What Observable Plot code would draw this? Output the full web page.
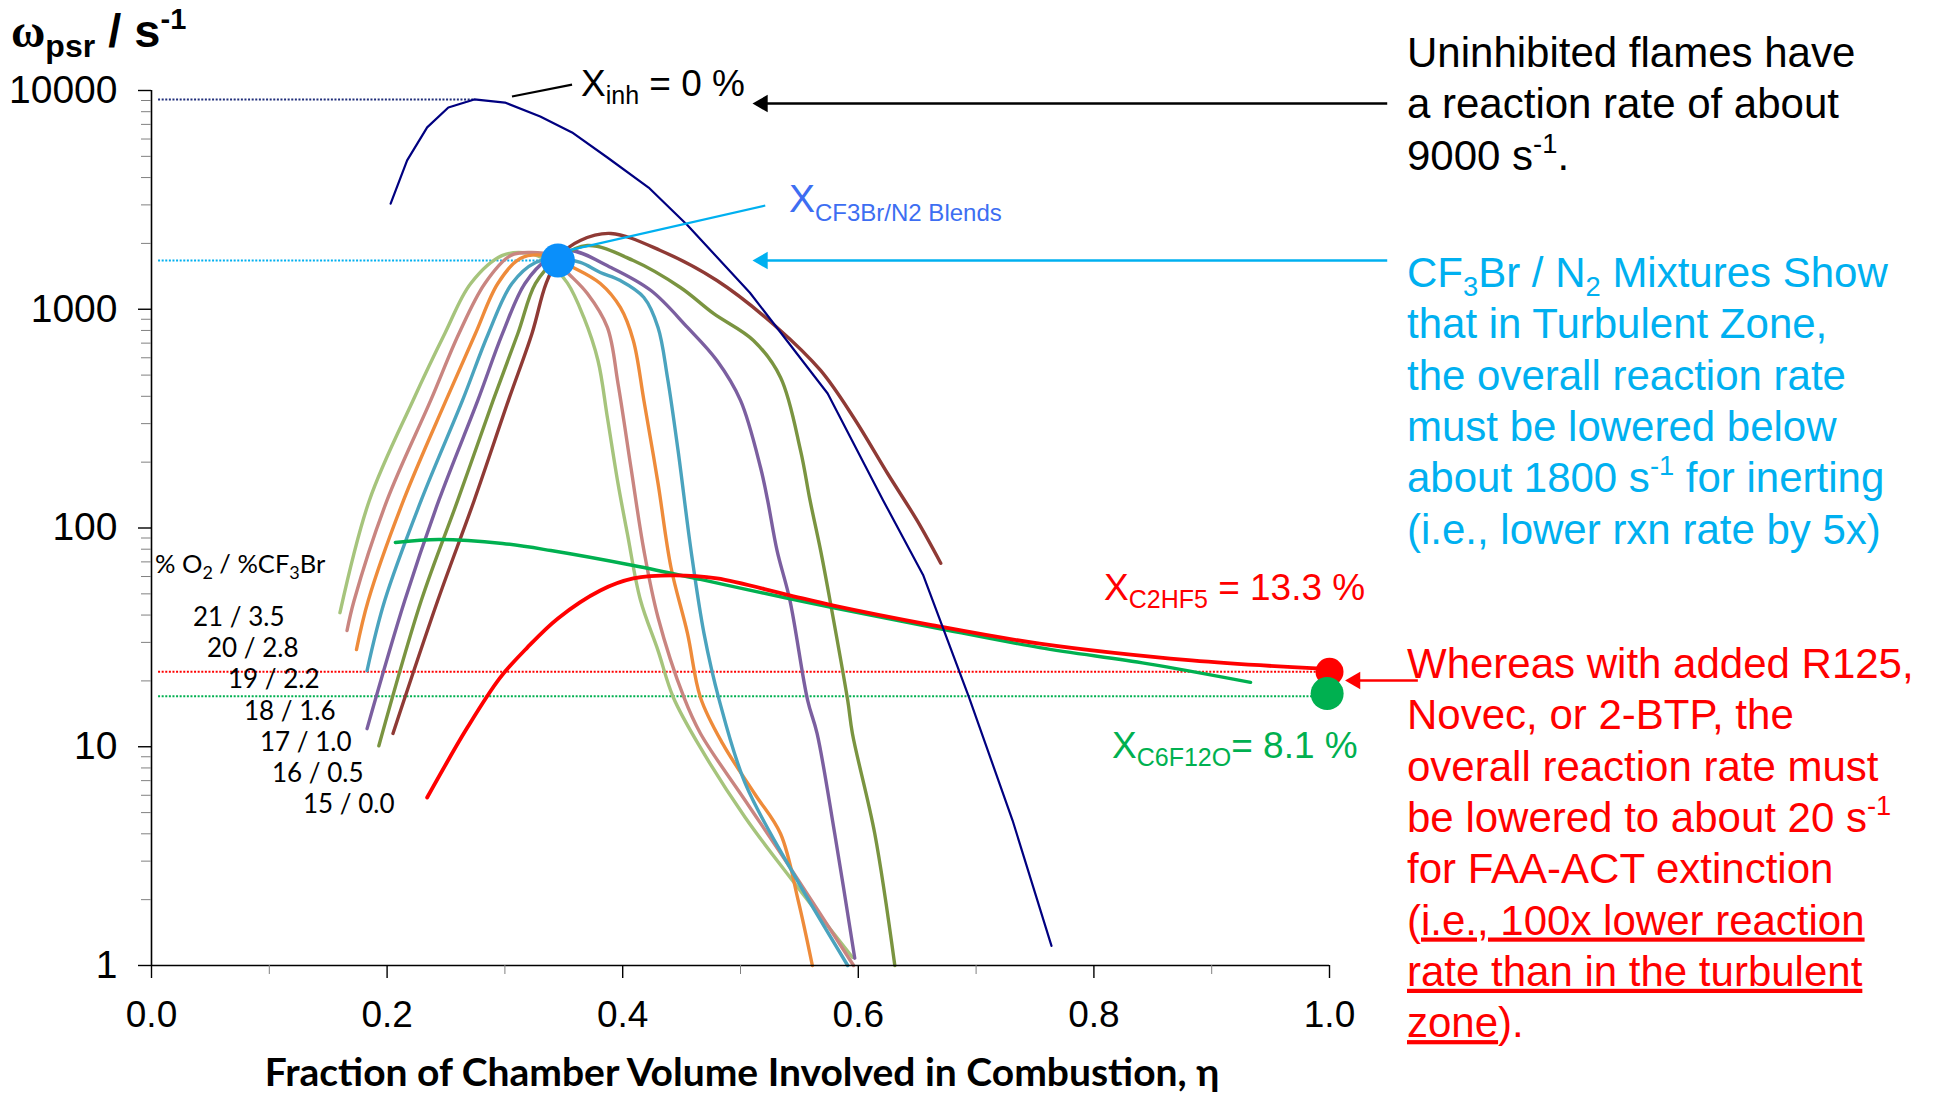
<!DOCTYPE html>
<html><head><meta charset="utf-8">
<script src="https://cdn.jsdelivr.net/npm/d3@7"></script>
<script src="https://cdn.jsdelivr.net/npm/@observablehq/plot@0.6"></script>
<style>
html,body{margin:0;padding:0;background:#fff;}
#chart{position:relative;width:1938px;height:1095px;overflow:hidden;}
</style></head><body><div id="chart"></div>
<script>
// ---------- DATA ----------
const o2Pct    = [21, 20, 19, 18, 17, 16, 15];
const cf3brPct = [3.5, 2.8, 2.2, 1.6, 1.0, 0.5, 0.0];
const cfColors = ["#A6C47C","#C98580","#EE8B3A","#4AA3BE","#7B5FA0","#7A9440","#8F3A35"];

const eta21 = [0.160,0.185,0.222,0.249,0.271,0.298,0.321,0.335,0.353,0.367,0.379,0.387,0.396,0.404,0.415,0.430,0.443,0.466,0.504,0.542,0.595];
const w21   = [41,134,383,775,1312,1762,1800,1670,1320,917,583,320,160,94,47,27.5,16.8,9.9,4.75,2.53,1.09];
const eta20 = [0.166,0.172,0.200,0.237,0.261,0.283,0.305,0.322,0.339,0.353,0.370,0.387,0.396,0.407,0.418,0.430,0.452,0.466,0.504,0.542,0.596];
const w20   = [34,46.6,134,383,775,1312,1762,1817,1762,1473,1180,826,458,189,79,39,16.8,11.5,5.68,2.81,1.0];
const eta19 = [0.174,0.184,0.214,0.250,0.275,0.294,0.313,0.334,0.358,0.381,0.398,0.409,0.418,0.430,0.441,0.455,0.466,0.485,0.512,0.534,0.549,0.561];
const w19   = [27.8,46.6,134,383,775,1312,1706,1762,1552,1312,1019,720,383,160,66,33,16.8,10.3,6.1,4.0,1.98,1.0];
const eta18 = [0.183,0.198,0.229,0.264,0.286,0.306,0.326,0.344,0.364,0.381,0.398,0.418,0.430,0.438,0.447,0.458,0.469,0.482,0.504,0.542,0.591];
const w18   = [22.3,46.6,134,383,775,1312,1636,1706,1636,1473,1353,1132,826,488,226,79,33,16.3,6.8,2.8,1.0];
const eta17 = [0.183,0.215,0.244,0.277,0.298,0.317,0.337,0.355,0.390,0.424,0.455,0.480,0.500,0.517,0.523,0.531,0.542,0.557,0.565,0.580,0.597];
const w17   = [12.1,46.6,134,383,775,1312,1706,1857,1552,1218,826,583,383,189,134,79,46.6,16.3,11.5,4.0,1.08];
const eta16 = [0.193,0.229,0.260,0.290,0.311,0.326,0.343,0.370,0.409,0.449,0.477,0.511,0.534,0.551,0.559,0.568,0.576,0.591,0.595,0.614,0.631];
const w16   = [10.1,46.6,134,383,775,1312,1670,1955,1670,1257,957,720,488,226,134,79,46.6,16.3,11.5,4.0,1.0];
const eta15 = [0.205,0.243,0.274,0.303,0.323,0.335,0.347,0.364,0.390,0.432,0.480,0.531,0.568,0.596,0.625,0.650,0.670];
const w15   = [11.5,46.6,134,383,775,1312,1762,2063,2220,1857,1353,826,525,320,177,108,69];

const etaUninhibited = [0.203,0.217,0.234,0.252,0.274,0.300,0.330,0.357,0.387,0.422,0.455,0.508,0.574,0.621,0.655,0.694,0.731,0.764];
const wUninhibited   = [3040,4790,6780,8360,9100,8810,7610,6430,4940,3600,2420,1190,412,134,61,16.8,4.6,1.23];

const etaC6F12O = [0.207,0.244,0.298,0.339,0.409,0.466,0.537,0.578,0.664,0.754,0.845,0.933];
const wC6F12O   = [85.9,88.6,85,78.9,67.4,58.2,48.1,43.3,35.1,28.4,24,19.7];

const etaC2HF5 = [0.234,0.268,0.296,0.319,0.345,0.381,0.409,0.443,0.480,0.539,0.579,0.660,0.754,0.883,0.989];
const wC2HF5   = [5.86,12.2,20.7,28.4,38.6,51.8,58.8,60.7,58.8,49.6,44.2,36.2,29.6,24.8,22.8];

// reference levels (s^-1) and marked points
const refLevels  = [9100, 1670, 22, 17];
const refEnds    = [0.274, 0.345, 1.0, 0.997];
const refColors  = ["#1F2D7A", "#00B0F0", "#FF0000", "#00B050"];
const keyPointsEta = [0.345, 1.0, 0.998];
const keyPointsW   = [1670, 22, 17.5];
const keyColors    = ["#0A8FFA", "#FF0000", "#00B050"];
const keyRadius    = [17, 14, 16.5];

const xTicks = [0, 0.2, 0.4, 0.6, 0.8, 1.0];
const xMinor = [0.1, 0.3, 0.5, 0.7, 0.9];
const yTicks = [1, 10, 100, 1000, 10000];
const yMinor = [1, 10, 100, 1000].flatMap(d => [2,3,4,5,6,7,8,9].map(k => k * d));

// ---------- BUILD ----------
const cfEta = [eta21, eta20, eta19, eta18, eta17, eta16, eta15];
const cfW   = [w21, w20, w19, w18, w17, w16, w15];
const cfLabels = o2Pct.map((o, i) => `${o} / ${cf3brPct[i].toFixed(1)}`);
const rows = (xs, ys) => xs.map((x, i) => ({x, y: ys[i]}));

const refRows = refLevels.map((y, i) => ({y, x1: 0.006, x2: refEnds[i], c: refColors[i]}));

// annotation connectors / arrows (data units)
const pointers = [
  {x1: 0.306, y1: 9390, x2: 0.357, y2: 10640, c: "#000000", w: 2},
  {x1: 0.354, y1: 1857, x2: 0.521, y2: 2980, c: "#00B0F0", w: 2.2}
];
const arrows = [
  {x1: 1.049, x2: 0.512, y: 8720, c: "#000000"},
  {x1: 1.049, x2: 0.512, y: 1670, c: "#00B0F0"},
  {x1: 1.075, x2: 1.015, y: 20.1, c: "#FF0000"}
];

const SANS = "'Liberation Sans', Arial, Helvetica, sans-serif";
const CAL = "Lato, 'Open Sans', sans-serif";

const chart = Plot.plot({
  width: 1938, height: 1095,
  marginLeft: 151, marginRight: 609, marginTop: 90, marginBottom: 130,
  x: {domain: [0, 1]},
  y: {type: "log", domain: [1, 10000]},
  style: {fontFamily: SANS, background: "white", color: "black", overflow: "visible"},
  marks: [
    Plot.ruleY(refRows, {y: "y", x1: "x1", x2: "x2", stroke: d => d.c, strokeWidth: 2, strokeDasharray: "2,1.6"}),
    ...cfEta.map((xs, i) => Plot.line(rows(xs, cfW[i]), {x: "x", y: "y", stroke: cfColors[i], strokeWidth: 3.4, curve: "catmull-rom"})),
    Plot.line(rows(etaC6F12O, wC6F12O), {x: "x", y: "y", stroke: "#00B050", strokeWidth: 3.4, curve: "catmull-rom"}),
    Plot.line(rows(etaC2HF5, wC2HF5), {x: "x", y: "y", stroke: "#FF0000", strokeWidth: 3.8, curve: "catmull-rom"}),
    Plot.line(rows(etaUninhibited, wUninhibited), {x: "x", y: "y", stroke: "#000080", strokeWidth: 2.2}),
    Plot.link(pointers, {x1: "x1", y1: "y1", x2: "x2", y2: "y2", stroke: d => d.c, strokeWidth: 2.2}),
    Plot.link(arrows, {x1: "x1", x2: d => d.x2 + 0.006, y1: "y", y2: "y", stroke: d => d.c, strokeWidth: 2.6}),
    Plot.dot(arrows, {x: "x2", y: "y", symbol: "triangle", r: 6.5, fill: d => d.c, rotate: -90, dx: 8}),
    ...keyPointsEta.map((x, i) => Plot.dot([{x, y: keyPointsW[i]}], {x: "x", y: "y", r: keyRadius[i], fill: keyColors[i]})),
    // axes
    Plot.ruleX([0], {y1: 1, y2: 10000, strokeWidth: 1.6}),
    Plot.ruleY([1], {x1: 0, x2: 1, strokeWidth: 1.6}),
    Plot.axisY({ticks: yMinor, tickSize: 10, tickFormat: () => "", stroke: "#808080", label: null}),
    Plot.axisY({ticks: yTicks, tickSize: 13, tickPadding: 21, tickFormat: d => String(d), fontSize: 39, fontFamily: SANS, label: null, strokeWidth: 1.4}),
    Plot.axisX({ticks: xMinor, tickSize: 9, tickFormat: () => "", stroke: "#808080", label: null}),
    Plot.axisX({ticks: xTicks, tickSize: 13, tickPadding: 22, tickFormat: d => d.toFixed(1), fontSize: 37, fontFamily: SANS, label: null, strokeWidth: 1.4})
  ]
});
document.getElementById("chart").appendChild(chart);

// ---------- TEXT ANNOTATIONS ----------
const g = d3.select(chart).append("g").attr("class", "annotations");
function rich(x, y, parts, o) {
  const t = g.append("text").attr("x", x).attr("y", y)
    .attr("fill", o.fill || "black").attr("font-size", o.size)
    .attr("font-family", o.family || SANS).attr("font-weight", o.weight || "normal")
    .attr("text-anchor", o.anchor || "start").style("white-space", "pre");
  let shift = 0;
  for (const p of parts) {
    const q = typeof p === "string" ? {t: p} : p;
    let target = 0, fs = o.size;
    if (q.k === "sub") { target = q.dy != null ? q.dy : o.size * 0.22; fs = q.s || o.size * 0.65; }
    if (q.k === "sup") { target = q.dy != null ? q.dy : -o.size * 0.4; fs = q.s || o.size * 0.65; }
    const ts = t.append("tspan").attr("dy", target - shift).attr("font-size", fs).text(q.t);
    if (q.f) ts.attr("font-family", q.f);
    if (q.w) ts.attr("font-weight", q.w);
    if (q.u) ts.attr("text-decoration", "underline");
    shift = target;
  }
  return t;
}

// y-axis title
rich(11, 47, [{t: "ω", f: "'Liberation Serif', 'DejaVu Serif', serif", s: 50}, {t: "psr", k: "sub", s: 32, dy: 10}, " / s", {t: "-1", k: "sup", s: 29, dy: -18}], {size: 47, weight: "bold"});

// x-axis title
rich(742, 1086, ["Fraction of Chamber Volume Involved in Combustion, η"], {size: 39, weight: "bold", family: CAL, anchor: "middle"});

// right-side blocks
const LH = 51.3;
const blackLines = [["Uninhibited flames have"], ["a reaction rate of about"], ["9000 s", {t: "-1", k: "sup"}, "."]];
blackLines.forEach((l, i) => rich(1407, 67 + i * LH, l, {size: 42, fill: "#000000"}));

const cyanLines = [
  ["CF", {t: "3", k: "sub"}, "Br / N", {t: "2", k: "sub"}, " Mixtures Show"],
  ["that in Turbulent Zone,"],
  ["the overall reaction rate"],
  ["must be lowered below"],
  ["about 1800 s", {t: "-1", k: "sup"}, " for inerting"],
  ["(i.e., lower rxn rate by 5x)"]
];
cyanLines.forEach((l, i) => rich(1407, 287 + i * LH, l, {size: 42, fill: "#00B0F0"}));

const redLines = [
  ["Whereas with added R125,"],
  ["Novec, or 2-BTP, the"],
  ["overall reaction rate must"],
  ["be lowered to about 20 s", {t: "-1", k: "sup"}],
  ["for FAA-ACT extinction"],
  ["(", {t: "i.e., 100x lower reaction", u: true}],
  [{t: "rate than in the turbulent", u: true}],
  [{t: "zone", u: true}, ")."]
];
redLines.forEach((l, i) => rich(1407, 678 + i * LH, l, {size: 42, fill: "#FF0000"}));

// curve labels
rich(581, 96, ["X", {t: "inh", k: "sub", s: 25, dy: 8}, " = 0 %"], {size: 37, fill: "#000000"});
rich(789, 212, ["X", {t: "CF3Br/N2 Blends", k: "sub", s: 24, dy: 9}], {size: 39, fill: "#3D6EF2"});
rich(1104, 600, ["X", {t: "C2HF5", k: "sub", s: 25, dy: 8}, " = 13.3 %"], {size: 37, fill: "#FF0000"});
rich(1112, 758, ["X", {t: "C6F12O", k: "sub", s: 25, dy: 8}, "= 8.1 %"], {size: 37, fill: "#00B050"});

// O2 / CF3Br legend
rich(155, 573, ["% O", {t: "2", k: "sub", s: 18, dy: 6}, " / %CF", {t: "3", k: "sub", s: 18, dy: 6}, "Br"], {size: 25.5, family: CAL});
const labelPos = [[193, 626], [207, 657], [228, 688], [244, 720], [260, 751], [272, 782], [303, 813]];
cfLabels.forEach((s, i) => rich(labelPos[i][0], labelPos[i][1], [s], {size: 26, family: CAL}));
</script>
</body></html>
